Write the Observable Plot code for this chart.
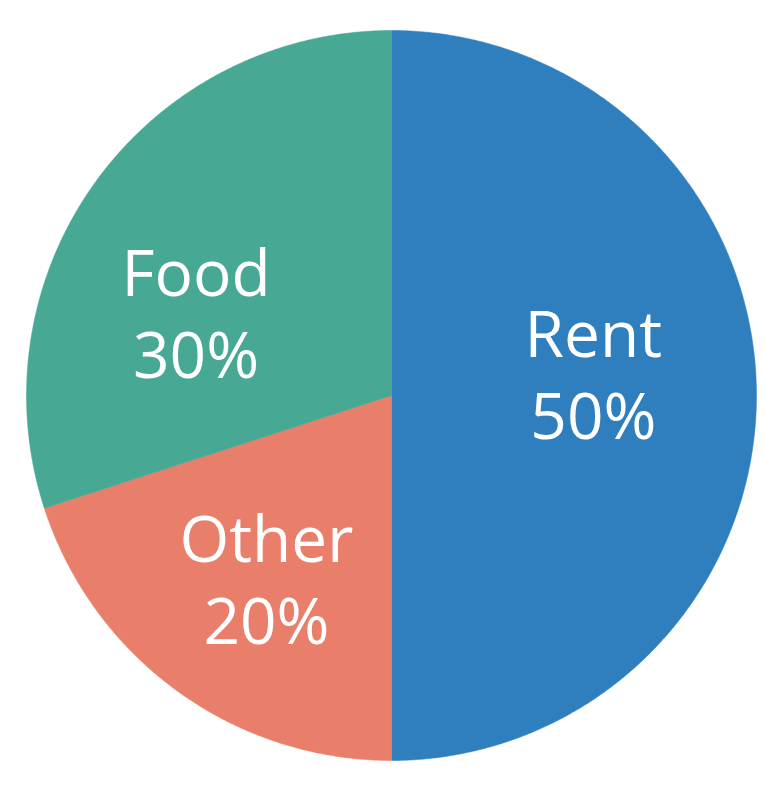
<!DOCTYPE html>
<html>
<head>
<meta charset="utf-8">
<script src="https://cdn.jsdelivr.net/npm/d3@7"></script>
<script src="https://cdn.jsdelivr.net/npm/@observablehq/plot@0.6"></script>
<style>
  html, body { margin: 0; padding: 0; background: #ffffff; }
  #chart { width: 765px; height: 787px; }
</style>
</head>
<body>
<div id="chart"></div>
<script>
// ---- data ----
const categories = ["Rent", "Other", "Food"];
const shares = [50, 20, 30];
const colors = ["#2f7fbf", "#e97e6b", "#47a893"];

// ---- layout ----
const W = 765, H = 787;
const cx = 391, cy = 395, R = 365;
const labelRadius = 0.6;
const labelNudge = { Rent: [-0.047, 0.065], Other: [0.01, -0.012], Food: [-0.05, -0.12] };

const data = categories.map((c, i) => ({ name: c, value: shares[i], color: colors[i] }));
const arcs = d3.pie().sort(null).value(d => d.value)(data);

// polygon outline for each slice (unit circle coordinates)
const poly = [];
arcs.forEach(a => {
  const n = Math.max(2, Math.ceil((a.endAngle - a.startAngle) / 0.005));
  poly.push({ name: a.data.name, x: 0, y: 0 });
  for (let k = 0; k <= n; k++) {
    const t = a.startAngle + (a.endAngle - a.startAngle) * k / n;
    poly.push({ name: a.data.name, x: Math.sin(t), y: Math.cos(t) });
  }
  poly.push({ name: a.data.name, x: 0, y: 0 });
});

const labels = arcs.map(a => {
  const m = (a.startAngle + a.endAngle) / 2;
  const nd = labelNudge[a.data.name];
  return {
    name: a.data.name,
    text: `${a.data.name}\n${a.data.value}%`,
    x: Math.sin(m) * labelRadius + nd[0],
    y: Math.cos(m) * labelRadius + nd[1]
  };
});

const chart = Plot.plot({
  width: W,
  height: H,
  margin: 0,
  style: { background: "#ffffff" },
  x: { domain: [-cx / R, (W - cx) / R], axis: null },
  y: { domain: [-(H - cy) / R, cy / R], axis: null },
  color: { domain: categories, range: colors },
  marks: [
    Plot.line(poly, { x: "x", y: "y", z: "name", fill: "name", stroke: "name", strokeWidth: 0.5, curve: "linear-closed" }),
    Plot.text(labels, {
      x: "x", y: "y", text: "text",
      fill: "white", fontSize: 64, fontFamily: "'Open Sans', Roboto, sans-serif",
      fontWeight: 400, lineHeight: 1.28, lineAnchor: "middle", textAnchor: "middle"
    })
  ]
});
document.getElementById("chart").appendChild(chart);
</script>
</body>
</html>
